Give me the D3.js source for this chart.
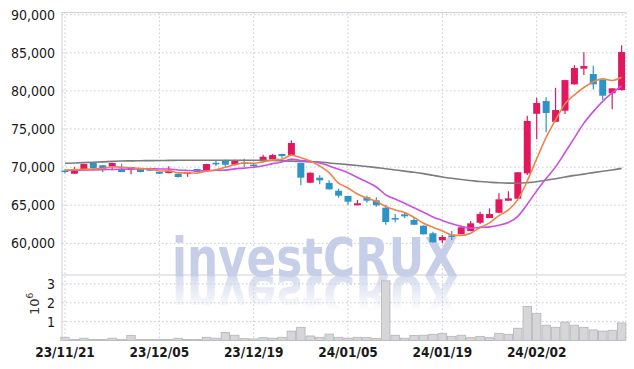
<!DOCTYPE html>
<html>
<head>
<meta charset="utf-8">
<script src="https://cdn.jsdelivr.net/npm/d3@7"></script>
<style>
  body { margin: 0; background: #fff; }
  text { font-family: "Liberation Sans Narrow", "DejaVu Sans Condensed", "Liberation Sans", sans-serif; }
</style>
</head>
<body>
<div class="chart"></div>
<script>
// trading days
const dates = ['23/11/21','23/11/22','23/11/23','23/11/24','23/11/27','23/11/28','23/11/29','23/11/30','23/12/01','23/12/04',
  '23/12/05','23/12/06','23/12/07','23/12/08','23/12/11','23/12/12','23/12/13','23/12/14','23/12/15','23/12/18',
  '23/12/19','23/12/20','23/12/21','23/12/22','23/12/26','23/12/27','23/12/28','24/01/02','24/01/03','24/01/04',
  '24/01/05','24/01/08','24/01/09','24/01/10','24/01/11','24/01/12','24/01/15','24/01/16','24/01/17','24/01/18',
  '24/01/19','24/01/22','24/01/23','24/01/24','24/01/25','24/01/26','24/01/29','24/01/30','24/01/31','24/02/01',
  '24/02/02','24/02/05','24/02/06','24/02/07','24/02/08','24/02/13','24/02/14','24/02/15','24/02/16','24/02/19'];

const open = [69550,69130,69580,70540,70240,70050,69790,69660,69880,69880,
  69360,69220,69130,69130,69750,69580,70560,70930,70310,70600,
  70330,70760,71020,71720,71580,70540,67950,68610,67910,66900,
  66210,64990,66040,65640,64670,63310,63800,63060,62310,61310,
  60390,61030,61220,61610,62700,63320,64010,65590,65850,69180,
  77000,78670,75950,77400,80860,82910,82210,81460,79680,80110];
const high = [69700,70010,70450,70560,70260,70560,70440,70030,69920,69900,
  69400,70100,69150,69330,69780,70450,70800,70950,70950,71100,
  70570,71620,71720,71750,73510,70560,69280,68920,68270,67160,
  66250,65680,66250,66040,65070,63840,64110,63360,62350,61520,
  61090,61610,62120,62930,64150,64590,66560,66820,69350,76740,
  79100,79160,80410,81450,83390,85060,83300,81500,80360,85980];
const low = [69200,69100,69550,69660,69320,69580,69340,69050,69300,69500,
  69100,69200,68650,68740,69300,69550,70140,70050,70200,70050,
  70050,70700,71000,71190,71550,67610,67930,67740,67050,65980,
  65060,64980,65330,64800,62440,62750,63320,62400,61150,60100,
  60040,60430,61200,61580,62530,63300,63950,65550,65800,68960,
  73650,74560,75900,76960,80800,82080,80200,78800,77580,80050];
const close = [69450,69620,70400,69880,69750,70540,69360,70010,69360,69530,
  69130,69530,68700,69310,69350,70400,70500,70310,70930,70540,
  70290,71360,71580,71450,73160,68610,69260,68270,67080,66250,
  65460,65250,65590,64990,62790,63250,63540,62440,61180,60130,
  60830,60980,62100,62620,63840,63840,65770,65900,69320,76050,
  78410,77100,77490,81420,83000,83260,80860,79370,80340,85100];

// moving averages as drawn
const ma5 = [69600,69650,69700,69760,69820,70040,69990,69910,69800,69760,
  69480,69510,69250,69240,69200,69460,69650,69970,70300,70540,
  70510,70690,70940,71040,71570,71230,70810,70150,69280,67890,
  67260,66460,65930,65510,64820,64370,64030,63400,62640,62110,
  61620,61110,61040,61330,62070,62680,63630,64390,65730,68180,
  71090,73900,76200,78300,79480,80450,81210,81580,81370,81790];
const ma10 = [69580,69600,69620,69640,69660,69690,69720,69750,69770,69790,
  69760,69750,69620,69560,69520,69510,69580,69610,69770,69870,
  69990,70170,70460,70670,71050,70870,70750,70550,70160,69730,
  69250,68640,68040,67390,66360,65820,65250,64660,64070,63460,
  63000,62570,62220,61990,62090,62150,62370,62720,63530,65130,
  66880,68500,70030,71910,73830,75770,77280,78630,79730,80640];
const maLong = [70500,70540,70590,70640,70690,70750,70800,70820,70840,70850,
  70860,70880,70890,70900,70900,70900,70900,70900,70900,70890,
  70890,70890,70860,70820,70780,70730,70690,70670,70540,70440,
  70330,70210,70080,69930,69790,69630,69470,69320,69140,68920,
  68710,68530,68370,68240,68110,68020,67940,67900,67890,67960,
  68080,68280,68480,68700,68910,69080,69280,69460,69630,69840];

const volume = [170000,60000,120000,60000,50000,120000,60000,260000,60000,50000,
  60000,60000,120000,50000,60000,170000,120000,430000,280000,100000,
  80000,150000,120000,170000,500000,700000,240000,170000,340000,170000,
  120000,170000,150000,100000,3160000,280000,120000,260000,280000,330000,
  380000,220000,280000,150000,220000,150000,380000,330000,650000,1810000,
  1440000,810000,700000,980000,810000,700000,560000,500000,540000,930000];

const priceTicks = [60000,65000,70000,75000,80000,85000,90000];
const volTicks = [1000000,2000000,3000000];
const dateTicks = dates.filter((d,i)=>i%10===0);

const W = 634, H = 369;
const left = 62, right = 626;
const priceTop = 12.5, priceBottom = 275, volBottom = 340.5;

const svg = d3.select('.chart').append('svg')
  .attr('width', W)
  .attr('height', H)
  .style('display','block');

const xScale = d3.scalePoint()
  .domain(dates)
  .range([65, 621.6]);

const yScale = d3.scaleLinear()
  .domain([55840, 90290])
  .range([priceBottom, priceTop]);

const vScale = d3.scaleLinear()
  .domain([0, 3470000])
  .range([volBottom, priceBottom]);

const upColor = '#e2185e', downColor = '#2c94c6';
const gridColor = '#c4c8d8';

//grid
const grid = svg.append('g');
grid.selectAll('.hgrid')
  .data(priceTicks)
  .enter()
  .append('line')
  .attr('x1', left).attr('x2', right)
  .attr('y1', d=>yScale(d)).attr('y2', d=>yScale(d))
  .attr('stroke', gridColor).attr('stroke-dasharray','1.5,2.5');
grid.selectAll('.vgrid')
  .data(volTicks)
  .enter()
  .append('line')
  .attr('x1', left).attr('x2', right)
  .attr('y1', d=>vScale(d)).attr('y2', d=>vScale(d))
  .attr('stroke', gridColor).attr('stroke-dasharray','1.5,2.5');
grid.selectAll('.xgrid')
  .data(dateTicks)
  .enter()
  .append('line')
  .attr('x1', d=>xScale(d)).attr('x2', d=>xScale(d))
  .attr('y1', priceTop).attr('y2', volBottom)
  .attr('stroke', gridColor).attr('stroke-dasharray','1.5,2.5');
grid.append('line')
  .attr('x1', right).attr('x2', right)
  .attr('y1', priceTop).attr('y2', volBottom)
  .attr('stroke', gridColor).attr('stroke-dasharray','1.5,2.5');

//frame
svg.append('line').attr('x1', left).attr('x2', right).attr('y1', priceTop).attr('y2', priceTop).attr('stroke', '#d0d0d8');
svg.append('line').attr('x1', left).attr('x2', left).attr('y1', priceTop).attr('y2', volBottom).attr('stroke', '#d0d0d8');
svg.append('line').attr('x1', left).attr('x2', right).attr('y1', priceBottom).attr('y2', priceBottom).attr('stroke', '#cfcfd6');

//watermark + reflection
const defs = svg.append('defs');
const grad = defs.append('linearGradient')
  .attr('id', 'fade').attr('gradientUnits', 'userSpaceOnUse')
  .attr('x1', 0).attr('x2', 0).attr('y1', 276).attr('y2', 240);
grad.append('stop').attr('offset', 0).attr('stop-color', '#c6cee8').attr('stop-opacity', 0.7);
grad.append('stop').attr('offset', 1).attr('stop-color', '#c6cee8').attr('stop-opacity', 0);

const mark = svg.append('g');
mark.append('text')
  .attr('x', 172).attr('y', 276)
  .attr('textLength', 286).attr('lengthAdjust', 'spacingAndGlyphs')
  .style('font-family', '"DejaVu Sans", sans-serif')
  .style('font-weight', 'bold').style('font-size', '53px')
  .attr('fill', '#c6cee8')
  .text('investCRUX');
mark.append('text')
  .attr('x', 172).attr('y', 276)
  .attr('transform', 'translate(0,552) scale(1,-1)')
  .attr('textLength', 286).attr('lengthAdjust', 'spacingAndGlyphs')
  .style('font-family', '"DejaVu Sans", sans-serif')
  .style('font-weight', 'bold').style('font-size', '53px')
  .attr('fill', 'url(#fade)')
  .text('investCRUX');

//volume bars
const step = xScale.step();
svg.selectAll('.vol')
  .data(volume)
  .enter()
  .append('rect')
  .attr('x', (d,i)=>xScale(dates[i]) - step/2 + 0.5)
  .attr('y', d=>vScale(d))
  .attr('width', step - 1)
  .attr('height', d=>volBottom - vScale(d))
  .attr('fill', '#d6d6d8')
  .attr('stroke', '#b4b4b8')
  .attr('stroke-width', 0.8);
svg.append('line').attr('x1', left).attr('x2', right).attr('y1', volBottom).attr('y2', volBottom).attr('stroke', '#bdbdc4');

//candles
const candles = svg.selectAll('.candle')
  .data(dates)
  .enter()
  .append('g');
candles.append('line')
  .attr('x1', d=>xScale(d)).attr('x2', d=>xScale(d))
  .attr('y1', (d,i)=>yScale(high[i])).attr('y2', (d,i)=>yScale(low[i]))
  .attr('stroke', (d,i)=>close[i]>=open[i]?upColor:downColor)
  .attr('stroke-width', 1.2);
candles.append('rect')
  .attr('x', d=>xScale(d)-3.5)
  .attr('width', 7)
  .attr('y', (d,i)=>yScale(Math.max(open[i],close[i])))
  .attr('height', (d,i)=>Math.max(1.5, Math.abs(yScale(open[i])-yScale(close[i]))))
  .attr('fill', (d,i)=>close[i]>=open[i]?upColor:downColor);

//moving average lines
const line = d3.line()
  .x((d,i)=>xScale(dates[i]))
  .y(d=>yScale(d))
  .curve(d3.curveMonotoneX);
svg.append('path').datum(maLong).attr('d', line).attr('fill','none').attr('stroke','#7c7c7c').attr('stroke-width',1.6);
svg.append('path').datum(ma10).attr('d', line).attr('fill','none').attr('stroke','#c850e4').attr('stroke-width',1.6);
svg.append('path').datum(ma5).attr('d', line).attr('fill','none').attr('stroke','#ef8448').attr('stroke-width',1.6);

//axes labels
svg.selectAll('.ptick')
  .data(priceTicks)
  .enter()
  .append('text')
  .attr('x', 55).attr('y', d=>yScale(d)+5)
  .attr('text-anchor','end')
  .attr('font-size', 14)
  .attr('fill', '#1a1a1a')
  .text(d=>d3.format(',')(d));
svg.selectAll('.vtick')
  .data(volTicks)
  .enter()
  .append('text')
  .attr('x', 55).attr('y', d=>vScale(d)+5)
  .attr('text-anchor','end')
  .attr('font-size', 14)
  .attr('fill', '#1a1a1a')
  .text(d=>d/1e6);
const unit = svg.append('text')
  .attr('transform', 'translate(39,315) rotate(-90)')
  .attr('font-size', 13)
  .attr('fill', '#333')
  .style('font-family', '"DejaVu Sans", sans-serif');
unit.append('tspan').text('10');
unit.append('tspan').attr('dy', -6).attr('font-size', 9).text('6');

svg.selectAll('.dtick')
  .data(dateTicks)
  .enter()
  .append('text')
  .attr('x', d=>xScale(d)).attr('y', 357)
  .attr('text-anchor','middle')
  .attr('font-size', 13.5)
  .attr('font-weight', 'bold')
  .attr('fill', '#1a1a1a')
  .text(d=>d);
</script>
</body>
</html>
